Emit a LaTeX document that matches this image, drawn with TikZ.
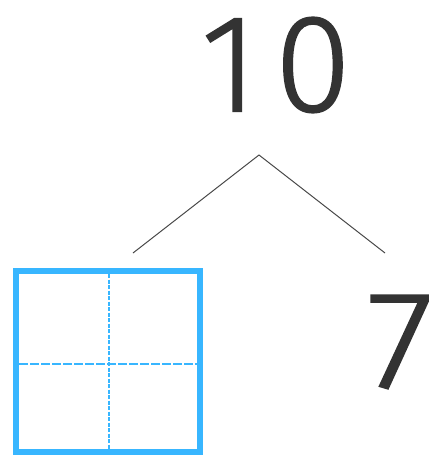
\documentclass[tikz,border=0pt]{standalone}
\usepackage{fontspec}
\setmainfont{Fira Sans}[UprightFont=* Light, UprightFeatures={FakeBold=1.2}]
\definecolor{digit}{HTML}{333333}
\definecolor{boxblue}{HTML}{38B6FF}
\tikzset{
  digitnode/.style={text=digit, font=\fontsize{139}{139}\selectfont, inner sep=0pt},
  stem/.style={draw=digit!90, line width=1pt},
  frame/.style={draw=boxblue, line width=6pt},
  guide/.style={draw=boxblue, line width=1.2pt, dash pattern=on 4pt off 1.5pt},
  guideh/.style={draw=boxblue, line width=1.4pt, dash pattern=on 9pt off 2pt}
}
\begin{document}
\begin{tikzpicture}[x=1pt,y=-1pt]
\useasboundingbox (0,0) rectangle (440,455);
\node[digitnode] (ten) at (276,65) {\addfontfeature{LetterSpace=12}10};
\node[digitnode, xscale=1.1] (seven) at (400,342) {7};
\coordinate (apex) at (259,155);
\coordinate (lend) at (133,253);
\coordinate (rend) at (385,253);
\draw[stem] (lend) -- (apex) -- (rend);
\draw[frame] (16,271) rectangle (200,452);
\draw[guide] (109,274) -- (109,449);
\draw[guideh] (19,364) -- (197,364);
\end{tikzpicture}
\end{document}
